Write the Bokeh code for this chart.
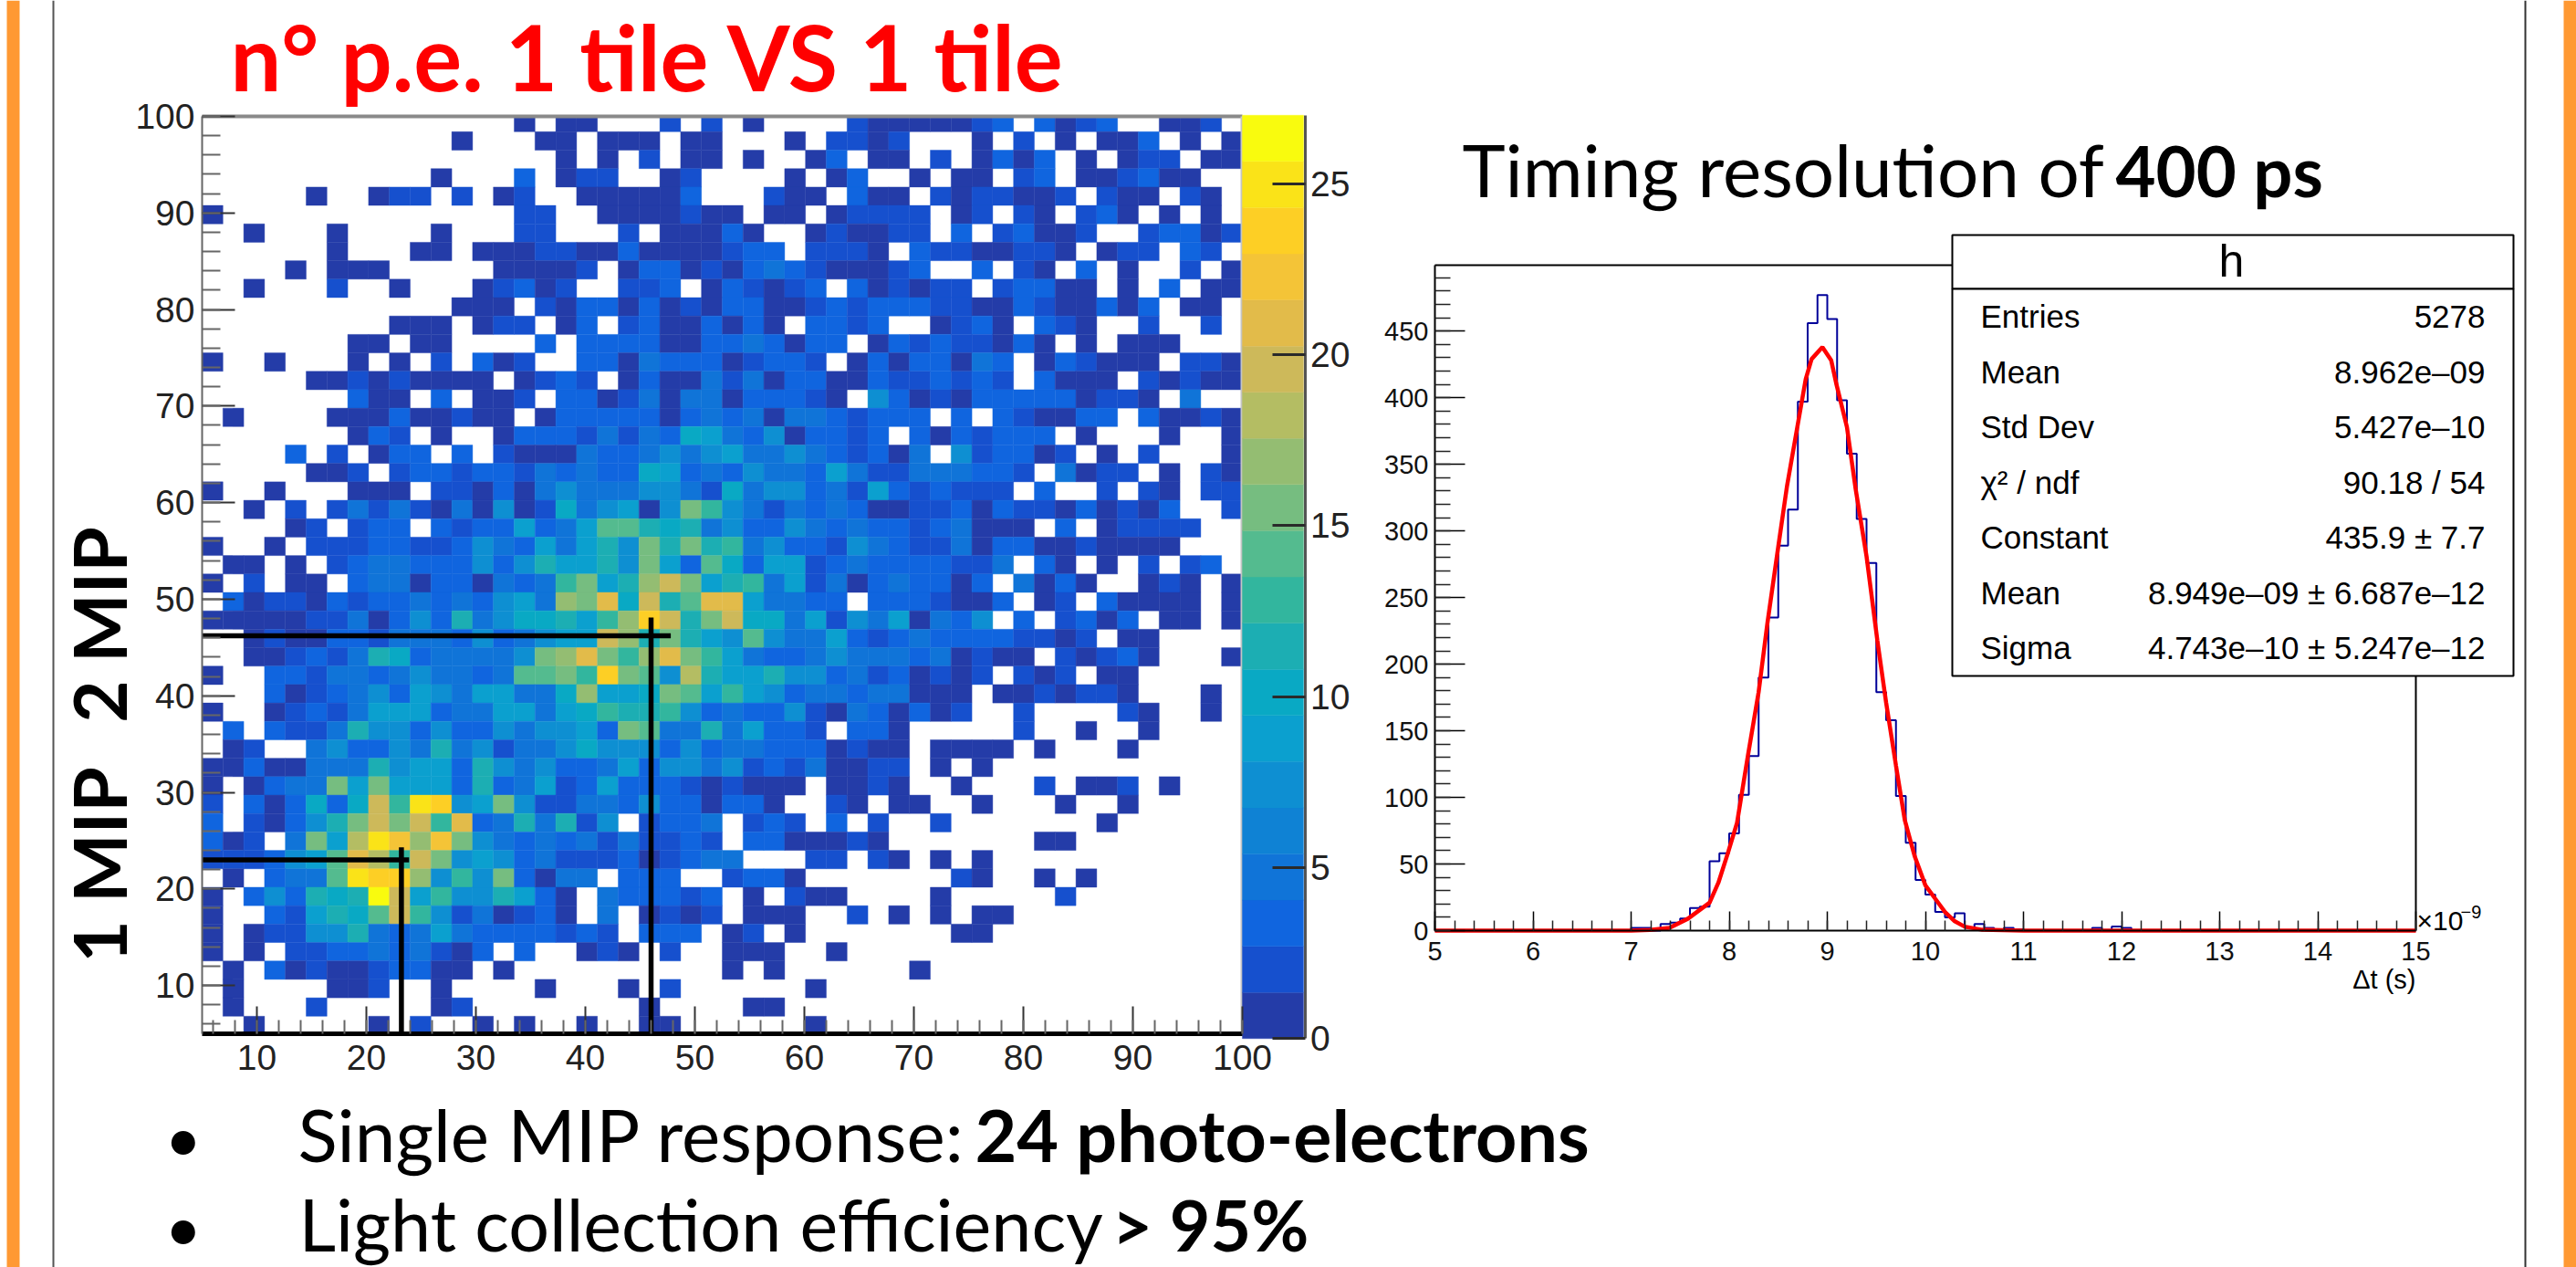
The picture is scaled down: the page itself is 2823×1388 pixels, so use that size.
from bokeh.embed import file_html
from bokeh.resources import INLINE
from bokeh.plotting import figure
from bokeh.models import (ColumnDataSource, FixedTicker, Label, LinearAxis, LinearColorMapper,
                          Range1d, SingleIntervalTicker)
from bokeh.transform import transform
import numpy as np

# ---------- 2D histogram: one symbol per cell, top row first, left column first ----------
heat_rows = [
"...............1.11...2.2.1....21111123.3123..112.",
"............1...11.111.11...1.2212...1.2.1.113.1.1",
".................1.1.2.11.1..13.11.2.1313.1.122.11",
"...........1...3.122..12....1.13..1.11.23.112311..",
".....1..122.2.12..111113...211.311.2122112.211.21.",
"1..............22..1111211.11.12222.12.21.231.1.1.",
"..1...1....1...22...2.11131..121122.3.23112..23312",
"......1...11.111221131111233.2221.32211221.122.32.",
"....1.111.....11112.133121353211123..3.21.3.1..2.1",
"..1...2..1...12312..223.132123.312122.23311.1.3.11",
"............111.213313121331123233322113211313.11.",
".........111.122.13.23113131.3323..1231.321..2..2.",
".......11.11....3.3333113353133.132322131.1.111...",
"1..1...1.1.2.312..331533312332.13133153.132111.221",
".....112121111.1232.1311525133113223232.3111.21211",
".......311.3.112.33125155133321.63121333331221.5..",
".1....111311211.1333331353515532333.3.321133.31121",
".......132.1..1333252539753613323.3132333.1...1..1",
"....3.2.133.3.211153356567556532315.623312.1.2...1",
".....112.2332332534339735365537522554332.5122.1.21",
"1..1...111.2213156555665295663527323222.3..2.21.22",
"..1.2.25252151612946716eb6525353112231322131213..2",
"....12.233.32337348dda9a5633653433235111.3.12222..",
"1..1.22233223653858a6eaeab563326532251331121111...",
".11.1.2355333636a88a6e73d93772353333225.31.1.2.23.",
"1.2.11.3541331435be7afie7ab57241343313.5131..121.1",
".3122132334353675fej9iadjj75533.3332113.12.31111.1",
"111112251363a5699a7bfmiaei995826571436.3.2313.11.1",
"..12113325553635677hfaea76d6557323533332212.11....",
"..112325a9355556efjebfjeb753356555351211.21231...1",
"1..332543565535ddebmed6ga77a6634231212.212.11.....",
"...312346376487559f779ed7b76355355111.1121221...1.",
"1..1232477735578479baab63533621531312..2....21..1.",
".3.3225a663633656683ed55a57332.331.....2..1..1....",
".12..463365a4625569666363553331211.1111.1...1.....",
"11311445a6773a65633583665623241122.1.1............",
"1.1355e7e7883a357237333212111.1121..1...2.112.1...",
"2.313939ibom68e6225536331331..21.11..1...1..1.....",
"3.2136aehehbj35a5a26.2335.232.3.2..2.......1......",
"312.5e7golfle653534242232.3311121.......11........",
"222368djgche67635222312345...22.21.1.1............",
".1.355dommf6b6e3144.333..2331.......21..1.1.......",
"1.363a9aqh7b66a831.433323.1.211....1.....2........",
"1..327a9dhb6251231.5.1212.111..2.1.1.11...........",
"1.12266a535853333232.333.12.1.......11............",
"1.1.2233435213.3..121.2..111..1...................",
".1.3121123311.1..........1.1......1...............",
".1....112..1....1...1.2......1....................",
".1...2.....12........1....11......................",
"..1.....1.2..1.1..1..11......1....................",
]
heat_counts = {".": 0, "1": 1, "2": 2, "3": 3, "4": 5, "5": 5, "6": 7, "7": 9, "8": 9, "9": 10, "a": 11,
               "b": 13, "c": 13, "d": 14, "e": 15, "f": 17, "g": 18, "h": 19, "i": 19, "j": 21, "l": 22,
               "m": 23, "o": 25, "q": 26}
bird_colors = ["#243CA8", "#1650CE", "#1065DF", "#1074D8", "#0F82D4", "#0E8FD2", "#0BA0CF", "#09A9C4",
               "#1CAEB3", "#32B69E", "#54BB8F", "#76BD80", "#94BD72", "#B4BD63", "#CDB95A", "#E2BB4A",
               "#F4C437", "#FDCF25", "#FAE318", "#F9FB0E"]
cbar_ticks = [0, 5, 10, 15, 20, 25]
mip_x = [46.0, 23.2]
mip_y = [46.2, 23.0]
mip_x_end = [47.8, 23.9]
mip_y_end = [48.1, 24.3]

# ---------- timing histogram ----------
hist_counts = [0]*20 + [2, 2, 0, 5, 6, 9, 17, 18, 52, 58, 73, 102, 131, 190, 235, 289, 316, 397, 456, 477,
                        459, 398, 358, 309, 276, 179, 158, 101, 66, 38, 27, 14, 10, 13, 2, 5, 2, 1, 2, 1,
                        0, 0, 0, 0, 0, 0, 0, 2, 0, 3, 2] + [0]*29
fit_x = [5, 7, 7.19, 7.39, 7.58, 7.69, 7.8, 7.89, 7.99, 8.08, 8.19, 8.3, 8.39, 8.5, 8.59, 8.69, 8.78, 8.84,
         8.95, 9.04, 9.09, 9.2, 9.29, 9.4, 9.51, 9.6, 9.7, 9.79, 9.89, 10.0, 10.1, 10.2, 10.3, 10.4, 10.58, 11, 15]
fit_y = [0, 0, 0.5, 2, 9, 15, 21, 36, 59, 81, 131, 179, 231, 288, 334, 376, 414, 429, 438, 428, 411, 378, 331,
         281, 218, 171, 124, 83, 56, 34, 24, 14, 7, 3, 0.6, 0, 0]
stats_names = ["Entries", "Mean", "Std Dev", "χ² / ndf", "Constant", "Mean", "Sigma"]
stats_values = ["5278", "8.962e–09", "5.427e–10", "90.18 / 54", "435.9 ± 7.7",
                "8.949e–09 ± 6.687e–12", "4.743e–10 ± 5.247e–12"]

SANS = "Liberation Sans"
SLIDE = "Lato"
PX_L, PX_R, PX_T, PX_B = 0, 2823, 0, 1388

# one page-sized frame; every plot has its own ranges laid over a part of it
p = figure(width=PX_R - PX_L, height=PX_B - PX_T, min_border=0, x_range=Range1d(PX_L, PX_R),
           y_range=Range1d(PX_B, PX_T), x_axis_type=None, y_axis_type=None, output_backend="svg",
           toolbar_location=None, background_fill_color="white", border_fill_color="white",
           outline_line_color=None)
p.grid.visible = False


def over_x(name, low, low_px, px_per_unit):
    p.extra_x_ranges[name] = Range1d(low + (PX_L - low_px) / px_per_unit, low + (PX_R - low_px) / px_per_unit)


def over_y(name, low, low_px, px_per_unit):
    p.extra_y_ranges[name] = Range1d(low + (low_px - PX_B) / px_per_unit, low + (low_px - PX_T) / px_per_unit)


over_x("hx", 5, 221, 12.0)
over_y("hy", 5, 1132, 10.58)
over_y("cy", 0, 1137.3, 37.465)
over_x("tx", 5, 1572, 107.5)
over_y("ty", 0, 1019, 1.4595)

# slide furniture
p.quad(left=[7, 57, 2766, 2809], right=[21, 59, 2768, 2823], top=[0] * 4, bottom=[1388] * 4,
       fill_color=["#FF9933", "#555555", "#333333", "#FF9933"], line_color=None)

# 2D histogram
xs, ys, ts, bs, vs = [], [], [], [], []
edges_x = 5 + np.arange(51) * 1.9
edges_y = np.clip(100.308 - np.arange(51) * 1.908, 5, 100)
for r, line in enumerate(heat_rows):
    for c, ch in enumerate(line[:50]):
        if heat_counts[ch]:
            xs.append(edges_x[c]); ys.append(edges_x[c + 1]); ts.append(edges_y[r]); bs.append(edges_y[r + 1])
            vs.append(heat_counts[ch])
mapper = LinearColorMapper(palette=bird_colors, low=0, high=27)
p.quad(left="l", right="r", top="t", bottom="b", source=ColumnDataSource(dict(l=xs, r=ys, t=ts, b=bs, v=vs)),
       fill_color=transform("v", mapper), line_color=transform("v", mapper), line_width=0.4,
       x_range_name="hx", y_range_name="hy")
p.segment(x0=[5, 100], y0=[100, 5], x1=[100, 100], y1=[100, 100], line_color=["#8a8a8a", "#c4c4c4"], line_width=4,
          x_range_name="hx", y_range_name="hy")

# colour scale
band = 27 / len(bird_colors)
band_low = [i * band for i in range(len(bird_colors))]
band_high = [(i + 1) * band for i in range(len(bird_colors))]
p.quad(left=[1361] * 20, right=[1428] * 20, bottom=band_low, top=band_high, fill_color=bird_colors, line_color=bird_colors,
       line_width=0.4, y_range_name="cy")
cax = LinearAxis(y_range_name="cy", bounds=(0, 27), fixed_location=1429.5, ticker=FixedTicker(ticks=cbar_ticks),
                 major_tick_in=36, major_tick_out=0, minor_tick_line_color=None, major_tick_line_color="#2a2a2a",
                 major_tick_line_width=3, axis_line_color="#555555", axis_line_width=3,
                 major_label_text_font=SANS, major_label_text_font_size="39px", major_label_text_color="#222222",
                 major_label_standoff=6)
p.add_layout(cax, "right")

hx_ax = LinearAxis(x_range_name="hx", y_range_name="hy", bounds=(5, 100), fixed_location=5,
                   ticker=SingleIntervalTicker(interval=10, num_minor_ticks=5), major_tick_in=30, minor_tick_in=15,
                   axis_line_color="black", axis_line_width=5, major_label_standoff=12)
hy_ax = LinearAxis(x_range_name="hx", y_range_name="hy", bounds=(5, 100), fixed_location=5,
                   ticker=SingleIntervalTicker(interval=10, num_minor_ticks=5), major_tick_in=36, minor_tick_in=20,
                   axis_line_color="#666666", axis_line_width=2, major_label_standoff=8)
for ax in (hx_ax, hy_ax):
    ax.major_tick_out = 0; ax.minor_tick_out = 0
    ax.major_tick_line_color = "#333333"; ax.minor_tick_line_color = "#666666"
    ax.major_tick_line_width = 2; ax.minor_tick_line_width = 2
    ax.major_label_text_font = SANS; ax.major_label_text_font_size = "39px"
    ax.major_label_text_color = "#222222"
p.add_layout(hx_ax, "below")
p.add_layout(hy_ax, "left")

p.segment(x0=[5, 5], y0=mip_y, x1=mip_x_end, y1=mip_y, line_color="black", line_width=5.5,
          x_range_name="hx", y_range_name="hy")
p.segment(x0=mip_x, y0=[5, 5], x1=mip_x, y1=mip_y_end, line_color="black", line_width=5.5,
          x_range_name="hx", y_range_name="hy")

# timing histogram
edges = [5 + i * 0.1 for i in range(100)] + [15]
p.segment(x0=[5, 15], y0=[499.5, 0], x1=[15, 15], y1=[499.5, 499.5], line_color="black", line_width=2,
          x_range_name="tx", y_range_name="ty")
p.step(edges, hist_counts + [0], mode="after", line_color="#000099", line_width=2, x_range_name="tx", y_range_name="ty")
p.line(fit_x, fit_y, line_color="#FF0000", line_width=4.5, x_range_name="tx", y_range_name="ty")
tx_ax = LinearAxis(x_range_name="tx", y_range_name="ty", bounds=(5, 15), fixed_location=0,
                   ticker=SingleIntervalTicker(interval=1, num_minor_ticks=5), major_tick_in=21, minor_tick_in=11,
                   major_label_standoff=12)
ty_ax = LinearAxis(x_range_name="tx", y_range_name="ty", bounds=(0, 499.5), fixed_location=5,
                   ticker=SingleIntervalTicker(interval=50, num_minor_ticks=5), major_tick_in=33, minor_tick_in=17,
                   major_label_standoff=7)
for ax in (tx_ax, ty_ax):
    ax.major_tick_out = 0; ax.minor_tick_out = 0
    ax.major_tick_line_color = "black"; ax.minor_tick_line_color = "#222222"
    ax.major_tick_line_width = 1.5; ax.minor_tick_line_width = 1.5
    ax.axis_line_color = "black"; ax.axis_line_width = 2
    ax.major_label_text_font = SANS; ax.major_label_text_font_size = "29px"
    ax.major_label_text_color = "#111111"
p.add_layout(tx_ax, "below")
p.add_layout(ty_ax, "left")

# statistics box
p.quad(left=[2139, 2139], right=[2754, 2754], top=[257, 316], bottom=[316, 740], fill_color="white",
       line_color="black", line_width=2)


def lab(x, y, text, size, font=SLIDE, style="normal", color="black", align="left", baseline="alphabetic", angle=0):
    # the renderer sets an "alphabetic" text lower than its anchor, in proportion to the font size
    yy = y - 0.39 * size if baseline == "alphabetic" else y
    p.add_layout(Label(x=x, y=yy, text=text, text_font=font, text_font_size=f"{size}px", text_font_style=style,
                       text_color=color, text_align=align, text_baseline=baseline, angle=angle, angle_units="deg"))


lab(252, 100, "n° p.e. 1 tile VS 1 tile", 99, style="bold", color="#FF0000")
lab(107, 684, "2 MIP", 80, style="bold", align="center", baseline="middle", angle=90)
lab(107, 947, "1 MIP", 80, style="bold", align="center", baseline="middle", angle=90)
lab(180, 1273, "•", 70)
lab(180, 1371, "•", 70)
lab(326, 1273, "Single MIP response: ", 80)
lab(1068, 1273, "24 photo-electrons", 79, style="bold")
lab(327, 1371, "Light collection efficiency ", 79)
lab(1218, 1371, "> 95%", 77, style="bold")
lab(1602, 216, "Timing resolution of ", 80)
lab(2318, 216, "400 ps", 76, style="bold")
lab(2445, 305, "h", 50, font=SANS, align="center")
for i, (n, v) in enumerate(zip(stats_names, stats_values)):
    y = 360 + i * 60.5
    lab(2170, y, n, 35, font=SANS)
    lab(2723, y, v, 35, font=SANS, align="right")
lab(2647, 1084, "Δt (s)", 29, font=SANS, align="right")
lab(2648, 1020, "×10", 30, font=SANS)
lab(2696, 1006, "−9", 20, font=SANS)

open("out.html", "w").write(file_html(p, INLINE))
